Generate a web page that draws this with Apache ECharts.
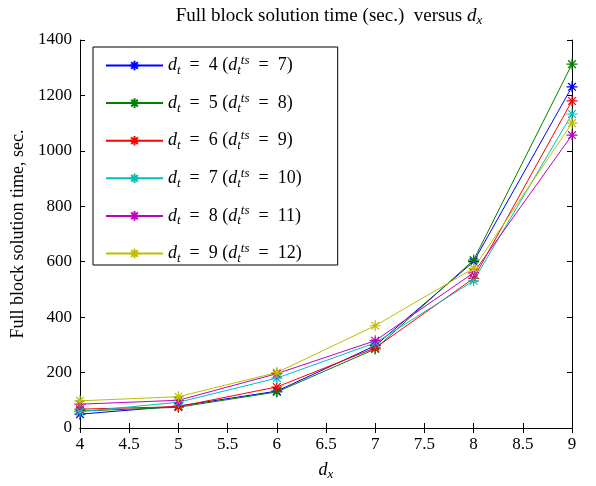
<!DOCTYPE html>
<html>
<head>
<meta charset="utf-8">
<script src="https://cdn.jsdelivr.net/npm/echarts@6/dist/echarts.min.js"></script>
<style>html,body{margin:0;padding:0;background:#fff}#c{width:596px;height:486px}</style>
</head>
<body>
<div id="c"></div>
<script>
// d_x grid points
const dx = [4, 5, 6, 7, 8, 9];
// Full block solution time (sec.) for each d_t
const dt4 = [50, 79, 133, 297, 600, 1231];
const dt5 = [61, 75, 130, 285, 606, 1313];
const dt6 = [68, 77, 148, 289, 540, 1180];
const dt7 = [59, 93, 180, 307, 531, 1133];
const dt8 = [86, 100, 196, 315, 560, 1057];
const dt9 = [98, 113, 200, 369, 576, 1100];
const dtValues = [4, 5, 6, 7, 8, 9];
const dtsValues = [7, 8, 9, 10, 11, 12];
const seriesData = [dt4, dt5, dt6, dt7, dt8, dt9];
const colors = ['#0000ff', '#008000', '#ff0000', '#00bfbf', '#bf00bf', '#bfbf00'];

const FONT = 'Liberation Serif';
const star = 'path://M0,5L10,5M5,0L5,10M1.5,1.5L8.5,8.5M8.5,1.5L1.5,8.5';

const names = dtValues.map((v, i) => 'dt' + v + '_' + dtsValues[i]);

const series = seriesData.map((d, i) => ({
  name: names[i],
  type: 'line',
  data: d.map((v, j) => [dx[j], v]),
  symbol: star,
  symbolSize: 11,
  showAllSymbol: true,
  lineStyle: { color: colors[i], width: 1 },
  itemStyle: { color: colors[i], borderColor: colors[i], borderWidth: 1.2 },
  emphasis: { disabled: true },
  animation: false
}));

const chart = echarts.init(document.getElementById('c'));
chart.setOption({
  backgroundColor: '#fff',
  title: {
    text: 'Full block solution time (sec.)  versus {i|d}{s|x}',
    left: 324, top: 0, textAlign: 'center',
    textStyle: {
      fontFamily: FONT, fontSize: 19, fontWeight: 'normal', color: '#000',
      rich: {
        i: { fontFamily: FONT, fontSize: 19, fontStyle: 'italic', color: '#000' },
        s: { fontFamily: FONT, fontSize: 13, fontStyle: 'italic', color: '#000', padding: [9, 0, 0, 0] }
      }
    }
  },
  grid: { left: 80, right: 24, top: 40, bottom: 58 },
  legend: {
    orient: 'vertical',
    left: 93, top: 47,
    padding: [7, 36, 0, 12],
    itemGap: 14.6,
    itemWidth: 57, itemHeight: 12,
    backgroundColor: '#fff',
    borderColor: '#000', borderWidth: 1,
    data: names,
    formatter: function (name) {
      const i = names.indexOf(name);
      return '{i|d}{s|t}{n|  =  ' + dtValues[i] + ' (}{i|d}{s|t}{p|ts}{n|  =  ' + dtsValues[i] + ')}';
    },
    textStyle: {
      fontFamily: FONT, fontSize: 18, color: '#000',
      rich: {
        n: { fontFamily: FONT, fontSize: 18, color: '#000' },
        i: { fontFamily: FONT, fontSize: 18, fontStyle: 'italic', color: '#000' },
        s: { fontFamily: FONT, fontSize: 13, fontStyle: 'italic', color: '#000', padding: [10, 0, 0, 0] },
        p: { fontFamily: FONT, fontSize: 13, fontStyle: 'italic', color: '#000', padding: [0, 0, 10, 0] }
      }
    }
  },
  xAxis: [{
    type: 'value', min: 4, max: 9, interval: 0.5,
    name: '{i|d}{s|x}', nameLocation: 'middle', nameGap: 31,
    nameTextStyle: {
      rich: {
        i: { fontFamily: FONT, fontSize: 18, fontStyle: 'italic', color: '#000' },
        s: { fontFamily: FONT, fontSize: 13, fontStyle: 'italic', color: '#000', padding: [9, 0, 0, 0] }
      }
    },
    axisLine: { lineStyle: { color: '#000', width: 1 } },
    axisTick: { inside: true, length: 5, lineStyle: { color: '#000' } },
    axisLabel: { fontFamily: FONT, fontSize: 17, color: '#000', margin: 8 },
    splitLine: { show: false }
  }, {
    type: 'value', min: 4, max: 9, interval: 0.5, position: 'top',
    axisLine: { show: true, lineStyle: { color: '#000', width: 1 } },
    axisTick: { inside: true, length: 5, lineStyle: { color: '#000' } },
    axisLabel: { show: false },
    splitLine: { show: false }
  }],
  yAxis: [{
    type: 'value', min: 0, max: 1400, interval: 200,
    name: 'Full block solution time, sec.', nameLocation: 'middle', nameGap: 52,
    nameTextStyle: { fontFamily: FONT, fontSize: 18, color: '#000' },
    axisLine: { show: true, lineStyle: { color: '#000', width: 1 } },
    axisTick: { show: true, inside: true, length: 5, lineStyle: { color: '#000' } },
    axisLabel: { fontFamily: FONT, fontSize: 17, color: '#000', margin: 8, formatter: v => String(v) },
    splitLine: { show: false }
  }, {
    type: 'value', min: 0, max: 1400, interval: 200, position: 'right',
    axisLine: { show: true, lineStyle: { color: '#000', width: 1 } },
    axisTick: { show: true, inside: true, length: 5, lineStyle: { color: '#000' } },
    axisLabel: { show: false },
    splitLine: { show: false }
  }],
  series: series,
  animation: false
});
</script>
</body>
</html>
